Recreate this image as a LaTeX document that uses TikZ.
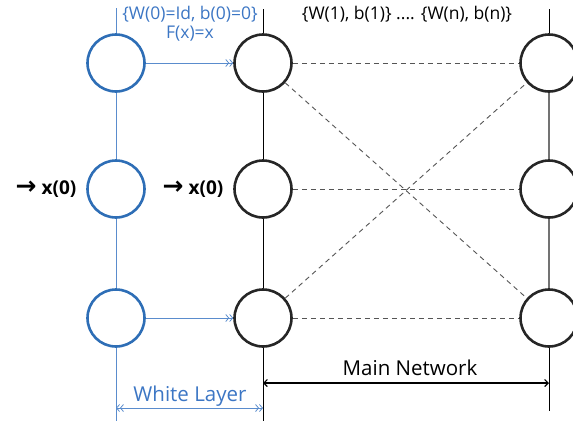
\documentclass[tikz,border=0pt]{standalone}
\usepackage{fontspec}
\setmainfont{Open Sans}
\newfontfamily\arrowfont{DejaVu Sans}
\usetikzlibrary{arrows.meta}
\definecolor{cblue}{RGB}{46,110,182}
\definecolor{tblue}{RGB}{60,118,196}
\definecolor{lblue}{RGB}{90,140,205}
\definecolor{dgray}{RGB}{85,85,85}
\tikzset{
  bneuron/.style={circle, draw=cblue, line width=2.6pt, minimum size=57pt, inner sep=0pt},
  kneuron/.style={circle, draw=black!85, line width=2.6pt, minimum size=57pt, inner sep=0pt},
  vline/.style={line width=0.8pt},
  dashline/.style={dgray, line width=0.9pt, dash pattern=on 5pt off 4pt},
  blab/.style={text=tblue, font=\fontsize{17.5}{20}\selectfont, inner sep=0pt},
  klab/.style={text=black, font=\fontsize{17.5}{20}\selectfont, inner sep=0pt},
  biglab/.style={font=\fontsize{20.5}{24}\selectfont, inner sep=0pt},
  xlab/.style={font=\fontsize{19}{22}\selectfont\bfseries, inner sep=0pt},
  dblarrow/.style={lblue, line width=0.8pt, -{Straight Barb[length=3pt,width=7pt] Straight Barb[length=3pt,width=7pt]}},
}
\begin{document}
\begin{tikzpicture}[x=1pt,y=-1pt]
\useasboundingbox (0,0) rectangle (573,421);
% neurons
\node[bneuron] (b1) at (116,63) {};
\node[bneuron] (b2) at (116,189) {};
\node[bneuron] (b3) at (116,318) {};
\node[kneuron] (m1) at (263,63) {};
\node[kneuron] (m2) at (263,189) {};
\node[kneuron] (m3) at (263,318) {};
\node[kneuron] (r1) at (549,63) {};
\node[kneuron] (r2) at (549,189) {};
\node[kneuron] (r3) at (549,318) {};
% coordinates for line ends
\coordinate (bt) at (116,8);
\coordinate (bb) at (116,421);
\coordinate (mt) at (263,9);
\coordinate (mb) at (263,421);
\coordinate (rt) at (549,9);
\coordinate (rb) at (549,411);
% vertical lines
\draw[vline, lblue] (bt) -- (b1) (b1) -- (b2) (b2) -- (b3) (b3) -- (bb);
\draw[vline, black] (mt) -- (m1) (m1) -- (m2) (m2) -- (m3) (m3) -- (mb);
\draw[vline, black] (rt) -- (r1) (r3) -- (rb);
\draw[vline, black!55, line width=1.2pt] (r1) -- (r2) (r2) -- (r3);
% dashed connections
\draw[dashline] (m1) -- (r1);
\draw[dashline] (m2) -- (r2);
\draw[dashline] (m3) -- (r3);
\draw[dashline] (m1) -- (r3);
\draw[dashline] (m3) -- (r1);
% blue arrows
\draw[dblarrow] (b1) -- (m1);
\draw[dblarrow] (b3) -- (m3);
% labels
\node[blab] (wtop) at (190,14) {\{W(0)=Id, b(0)=0\}};
\node[blab] (fx) at (190,34) {F(x)=x};
\node[klab] (wn) at (407,14) {\{W(1), b(1)\} .... \{W(n), b(n)\}};
\node[xlab] (x1) at (46,189) {{\arrowfont\fontsize{25}{25}\selectfont →}\hspace{5pt}x(0)};
\node[xlab] (x2) at (193,189) {{\arrowfont\fontsize{25}{25}\selectfont →}\hspace{5pt}x(0)};
% dimension arrows
\coordinate (mna) at (263,383);
\coordinate (mnb) at (549,383);
\draw[black, line width=1.2pt, {Straight Barb[length=3.5pt,width=7pt]}-{Straight Barb[length=3.5pt,width=7pt]}] (mna) -- (mnb);
\node[biglab] (mn) at (410,368) {Main Network};
\coordinate (wla) at (116,408);
\coordinate (wlb) at (263,408);
\draw[lblue, line width=0.8pt, {Straight Barb[length=3pt,width=7pt] Straight Barb[length=3pt,width=7pt]}-{Straight Barb[length=3pt,width=7pt] Straight Barb[length=3pt,width=7pt]}] (wla) -- (wlb);
\node[biglab, text=tblue] (wl) at (190,396) {White Layer};
\end{tikzpicture}
\end{document}
